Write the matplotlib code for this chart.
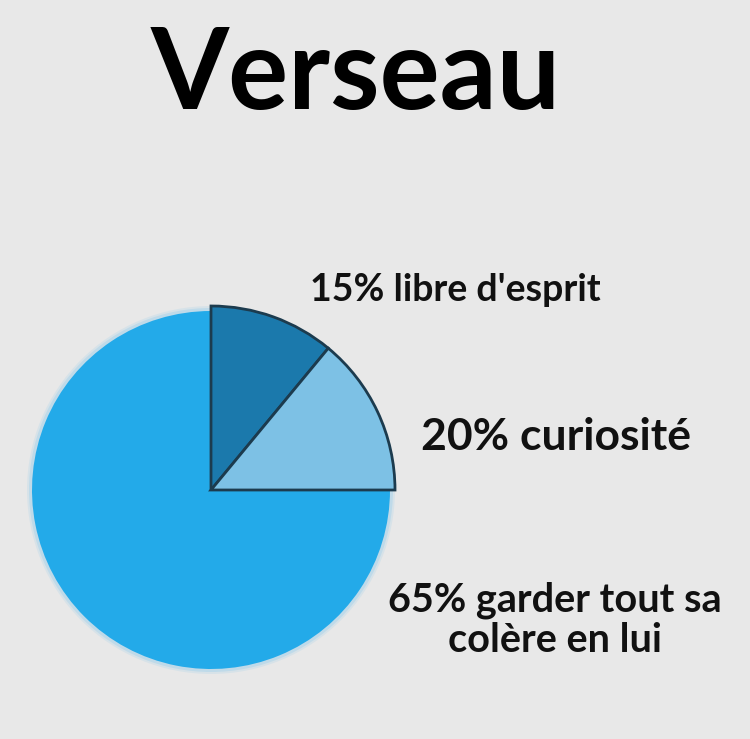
import matplotlib.pyplot as plt

# slice sizes as drawn in the picture (percent of the circle)
slice_sizes = [11, 14, 75]
slice_labels = ["15% libre d'esprit", "20% curiosité", "65% garder tout sa\ncolère en lui"]
slice_colors = ['#1b79ac', '#7dc1e5', '#23aae9']
title = 'Verseau'

BG = '#e8e8e8'
W, H = 750, 739

fig = plt.figure(figsize=(7.5, 7.39), dpi=100, facecolor=BG)
ax = fig.add_axes([0, 0, 1, 1])
ax.set_facecolor(BG)

cx, cy = 211, H - 490

# soft halo behind the big slice
for r, a in [(184, 0.12), (182, 0.2)]:
    ax.add_patch(plt.Circle((cx, cy), r, color='#5fbdf0', alpha=a, lw=0, zorder=1))

wedges, _ = ax.pie(slice_sizes, colors=slice_colors, startangle=90,
                   counterclock=False, center=(cx, cy), radius=179,
                   frame=True)
ax.set_xlim(0, W)
ax.set_ylim(0, H)
ax.set_aspect('equal')
ax.axis('off')
for w in wedges:
    w.set_zorder(2)
for w in wedges[:2]:
    w.set_radius(184)
    w.set_edgecolor('#1c3b4e')
    w.set_linewidth(2)
    w.set_zorder(3)
wedges[2].set_edgecolor('none')

fig.text(356 / W, 1 - 76 / H, title, ha='center', va='center',
         fontsize=81, fontweight='bold', family='Lato', color='black')

fig.text(455 / W, 1 - 290 / H, slice_labels[0], ha='center', va='center',
         fontsize=27, fontweight='bold', family='Lato', color='#111111')
fig.text(556 / W, 1 - 437 / H, slice_labels[1], ha='center', va='center',
         fontsize=32, fontweight='bold', family='Lato', color='#111111')
fig.text(555 / W, 1 - 620 / H, slice_labels[2], ha='center', va='center',
         fontsize=28.5, fontweight='bold', family='Lato', color='#111111',
         linespacing=1.1)

fig.savefig('out.png', dpi=100, facecolor=BG)
